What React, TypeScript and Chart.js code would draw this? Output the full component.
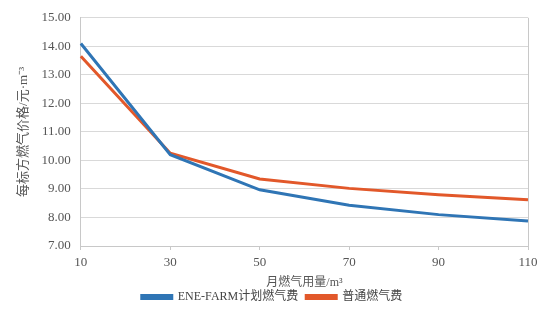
import React, { useEffect, useRef } from "react";
import { Chart, registerables } from "chart.js";

Chart.register(...registerables);

const categories = ["10", "30", "50", "70", "90", "110"];
const eneFarm = [14.1, 10.2, 8.97, 8.43, 8.1, 7.88];
const normal = [13.65, 10.25, 9.35, 9.02, 8.8, 8.62];
const seriesNames = ["ENE-FARM计划燃气费", "普通燃气费"];
const yTitle = "每标方燃气价格/元·m⁻³";
const xTitle = "月燃气用量/m³";

const rightBorder = {
  id: "rightBorder",
  afterDraw(chart: any) {
    const { ctx, chartArea } = chart;
    ctx.save();
    ctx.strokeStyle = "#c8c8c8";
    ctx.lineWidth = 1;
    ctx.beginPath();
    ctx.moveTo(Math.round(chartArea.right) + 0.5, chartArea.top);
    ctx.lineTo(Math.round(chartArea.right) + 0.5, chartArea.bottom);
    ctx.stroke();
    ctx.restore();
  },
};

const tightLegend = {
  id: "tightLegend",
  afterInit(chart: any) {
    const legend = chart.legend;
    if (!legend) return;
    const origFit = legend.fit.bind(legend);
    legend.fit = function () {
      origFit();
      this.height = Math.max(0, this.height - 9);
    };
    const origDraw = legend.draw.bind(legend);
    legend.draw = function () {
      const ctx = chart.ctx;
      ctx.save();
      ctx.translate(0, -7);
      origDraw();
      ctx.restore();
    };
  },
};

export default function App() {
  const ref = useRef<HTMLCanvasElement>(null);
  useEffect(() => {
    document.body.style.margin = "0";
    const serif = "'Liberation Serif', 'Times New Roman', serif";
    const cjk = "'Liberation Serif', 'Noto Sans CJK SC', serif";
    const chart = new Chart(ref.current!, {
      type: "line",
      data: {
        labels: categories,
        datasets: [
          {
            label: seriesNames[0],
            data: eneFarm,
            borderColor: "#2f75b5",
            backgroundColor: "#2f75b5",
            borderWidth: 3,
            pointRadius: 0,
            tension: 0,
          },
          {
            label: seriesNames[1],
            data: normal,
            borderColor: "#e2582a",
            backgroundColor: "#e2582a",
            borderWidth: 3,
            pointRadius: 0,
            tension: 0,
          },
        ],
      },
      options: {
        animation: false,
        responsive: false,
        layout: { padding: { top: 11, right: 26, left: 16, bottom: 0 } },
        plugins: {
          tooltip: { enabled: false },
          legend: {
            position: "bottom",
            labels: {
              boxWidth: 30,
              boxHeight: 3,
              padding: 8,
              color: "#444",
              font: { family: cjk, size: 12 },
            },
          },
        },
        scales: {
          x: {
            type: "category",
            offset: false,
            grid: {
              drawOnChartArea: false,
              drawTicks: true,
              tickLength: 4,
              color: "#c8c8c8",
            },
            border: { color: "#c8c8c8" },
            ticks: {
              color: "#555",
              font: { family: serif, size: 13 },
              padding: 5,
              maxRotation: 0,
            },
            title: {
              display: true,
              text: xTitle,
              color: "#555",
              font: { family: cjk, size: 12 },
              padding: { top: 0, bottom: 0 },
            },
          },
          y: {
            min: 7,
            max: 15,
            ticks: {
              stepSize: 1,
              color: "#555",
              font: { family: serif, size: 13 },
              padding: 10,
              callback: (v: any) => Number(v).toFixed(2),
            },
            grid: { color: "#d9d9d9", drawTicks: false },
            border: { color: "#c8c8c8" },
            title: {
              display: true,
              text: yTitle,
              color: "#555",
              font: { family: cjk, size: 13 },
              padding: { top: 0, bottom: 0 },
            },
          },
        },
      },
      plugins: [rightBorder, tightLegend],
    });
    return () => chart.destroy();
  }, []);
  return <canvas ref={ref} width={554} height={311} style={{ display: "block" }} />;
}
